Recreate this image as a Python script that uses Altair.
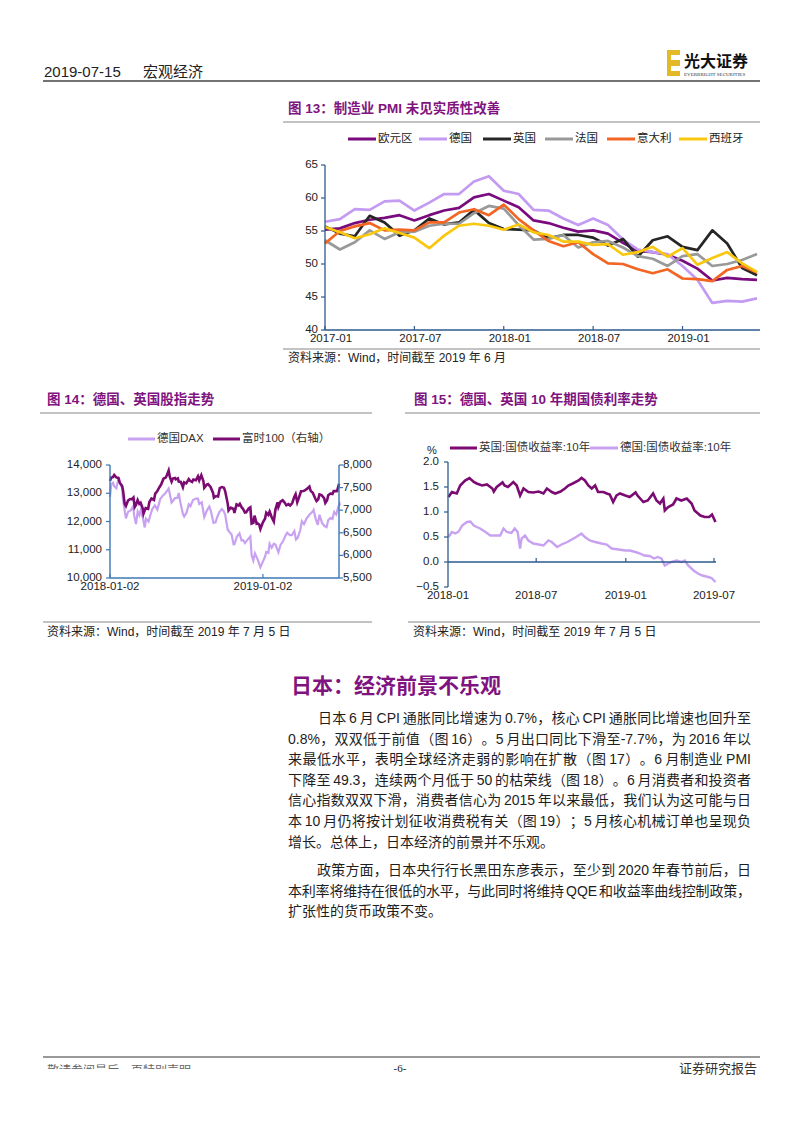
import altair as alt
import pandas as pd

W, H = 802, 1133
CJK = "Noto Sans CJK SC"
MIX = "Liberation Sans, Noto Sans CJK SC"
PURPLE_T = "#7F1480"
AXIS = "#2C5A8C"
AXIS14 = "#3C78B4"
TXT = "#1E1E1E"

# ---------------- Figure 13: manufacturing PMI ----------------
PMI_MONTHS = [f"{y}-{m:02d}" for y in (2017, 2018, 2019) for m in range(1, 13)][:30]
PMI_SERIES = ["欧元区", "德国", "英国", "法国", "意大利", "西班牙"]
PMI_EZ = [55.2, 55.4, 56.2, 56.7, 57.0, 57.4, 56.6, 57.4, 58.1, 58.5, 60.1, 60.6, 59.6, 58.6, 56.6,
          56.2, 55.5, 54.9, 55.1, 54.6, 53.2, 52.0, 51.8, 51.4, 50.5, 49.3, 47.5, 47.9, 47.7, 47.6]
PMI_DE = [56.4, 56.8, 58.3, 58.2, 59.5, 59.6, 58.1, 59.3, 60.6, 60.6, 62.5, 63.3, 61.1, 60.6, 58.2,
          58.1, 56.9, 55.9, 56.9, 55.9, 53.7, 52.2, 51.8, 51.5, 49.7, 47.6, 44.1, 44.4, 44.3, 44.8]
PMI_UK = [55.7, 54.6, 54.2, 57.3, 56.3, 54.3, 55.1, 56.9, 56.0, 56.3, 58.2, 56.2, 55.3, 55.2, 55.1,
          53.9, 54.4, 54.4, 54.0, 52.8, 53.8, 51.1, 53.6, 54.2, 52.6, 52.1, 55.1, 53.1, 49.4, 48.3]
PMI_FR = [53.6, 52.2, 53.3, 55.1, 53.8, 54.8, 54.9, 55.8, 56.1, 56.1, 57.7, 58.8, 58.4, 55.9, 53.7,
          53.8, 54.4, 52.5, 53.3, 53.5, 52.5, 51.2, 50.8, 49.7, 51.2, 51.5, 49.7, 50.0, 50.6, 51.5]
PMI_IT = [53.1, 55.0, 55.7, 56.2, 55.1, 55.2, 55.1, 56.3, 56.3, 57.8, 58.3, 57.4, 59.0, 56.8, 55.1,
          53.5, 52.7, 53.3, 51.5, 50.1, 50.0, 49.2, 48.6, 49.2, 47.8, 47.7, 47.4, 49.1, 49.7, 48.7]
PMI_ES = [55.6, 54.8, 53.9, 54.5, 55.4, 54.7, 54.0, 52.4, 54.3, 55.8, 56.1, 55.8, 55.2, 56.0, 54.8,
          54.4, 53.4, 53.4, 52.9, 53.0, 51.4, 51.8, 52.6, 51.1, 52.4, 49.9, 50.9, 51.8, 50.1, 48.8]
PMI_COLORS = ["#7A0B7E", "#C49BF2", "#262626", "#999999", "#F26522", "#F9C80E"]
PMI_YTICKS = [40, 45, 50, 55, 60, 65]
PMI_XLABELS = ["2017-01", "2017-07", "2018-01", "2018-07", "2019-01"]

# ---------------- Figure 14: DAX & FTSE 100 ----------------
DAX_DATES = ["2018-01-02", "2018-01-05", "2018-01-09", "2018-01-12", "2018-01-17", "2018-01-23", "2018-01-26",
             "2018-01-31", "2018-02-02", "2018-02-06", "2018-02-09", "2018-02-14", "2018-02-20", "2018-02-26",
             "2018-03-01", "2018-03-05", "2018-03-09", "2018-03-13", "2018-03-16", "2018-03-22", "2018-03-26",
             "2018-03-29", "2018-04-04", "2018-04-09", "2018-04-13", "2018-04-19", "2018-04-25", "2018-05-02",
             "2018-05-08", "2018-05-14", "2018-05-18", "2018-05-22", "2018-05-29", "2018-06-01", "2018-06-06",
             "2018-06-12", "2018-06-15", "2018-06-19", "2018-06-25", "2018-06-28", "2018-07-04", "2018-07-09",
             "2018-07-13", "2018-07-19", "2018-07-26", "2018-07-31", "2018-08-03", "2018-08-09", "2018-08-15",
             "2018-08-21", "2018-08-27", "2018-08-31", "2018-09-06", "2018-09-11", "2018-09-14", "2018-09-20",
             "2018-09-26", "2018-10-01", "2018-10-04", "2018-10-10", "2018-10-15", "2018-10-19", "2018-10-24",
             "2018-10-26", "2018-11-01", "2018-11-07", "2018-11-12", "2018-11-16", "2018-11-20", "2018-11-26",
             "2018-12-03", "2018-12-06", "2018-12-10", "2018-12-14", "2018-12-18", "2018-12-21", "2018-12-27",
             "2019-01-02", "2019-01-07", "2019-01-10", "2019-01-15", "2019-01-18", "2019-01-23", "2019-01-28",
             "2019-02-01", "2019-02-08", "2019-02-13", "2019-02-19", "2019-02-25", "2019-03-01", "2019-03-07",
             "2019-03-12", "2019-03-18", "2019-03-22", "2019-03-26", "2019-04-01", "2019-04-05", "2019-04-10",
             "2019-04-16", "2019-04-23", "2019-04-30", "2019-05-03", "2019-05-08", "2019-05-13", "2019-05-17",
             "2019-05-23", "2019-05-29", "2019-06-03", "2019-06-07", "2019-06-12", "2019-06-17", "2019-06-21",
             "2019-06-26", "2019-07-01", "2019-07-04", "2019-07-05"]
DAX_VALUES = [12870, 13320, 13370, 13250, 13180, 13560, 13340, 13190, 12790, 12390, 12110, 12340, 12390, 12530,
              12190, 11910, 12350, 12220, 12390, 12100, 11790, 12100, 12000, 12260, 12440, 12570, 12420, 12800,
              12910, 13000, 13080, 13170, 12670, 12720, 12830, 12840, 13010, 12680, 12270, 12180, 12320, 12610,
              12540, 12760, 12810, 12810, 12620, 12680, 12160, 12380, 12530, 12360, 11950, 11970, 12120, 12330,
              12440, 12350, 12240, 11710, 11610, 11550, 11190, 11200, 11470, 11580, 11330, 11340, 11240, 11350,
              11470, 10810, 10620, 10870, 10740, 10630, 10380, 10580, 10750, 10920, 10890, 11210, 11070, 11210,
              11180, 10910, 11170, 11300, 11500, 11600, 11520, 11520, 11660, 11360, 11420, 11680, 12010, 11910,
              12100, 12240, 12340, 12410, 12090, 11880, 12240, 11950, 11840, 11800, 12050, 12120, 12090, 12340,
              12250, 12520, 12630, 12570]
FTSE_DATES = ["2018-01-02", "2018-01-05", "2018-01-09", "2018-01-12", "2018-01-17", "2018-01-22", "2018-01-25",
              "2018-01-31", "2018-02-02", "2018-02-06", "2018-02-09", "2018-02-14", "2018-02-19", "2018-02-23",
              "2018-02-27", "2018-03-02", "2018-03-05", "2018-03-09", "2018-03-13", "2018-03-16", "2018-03-21",
              "2018-03-23", "2018-03-28", "2018-04-03", "2018-04-06", "2018-04-11", "2018-04-17", "2018-04-20",
              "2018-04-25", "2018-04-30", "2018-05-04", "2018-05-10", "2018-05-15", "2018-05-18", "2018-05-22",
              "2018-05-25", "2018-05-29", "2018-06-01", "2018-06-06", "2018-06-08", "2018-06-13", "2018-06-15",
              "2018-06-20", "2018-06-25", "2018-06-28", "2018-07-03", "2018-07-09", "2018-07-12", "2018-07-17",
              "2018-07-20", "2018-07-26", "2018-07-31", "2018-08-03", "2018-08-08", "2018-08-13", "2018-08-15",
              "2018-08-21", "2018-08-24", "2018-08-30", "2018-09-05", "2018-09-07", "2018-09-12", "2018-09-17",
              "2018-09-21", "2018-09-26", "2018-10-01", "2018-10-04", "2018-10-10", "2018-10-12", "2018-10-17",
              "2018-10-19", "2018-10-24", "2018-10-26", "2018-10-31", "2018-11-05", "2018-11-08", "2018-11-13",
              "2018-11-15", "2018-11-20", "2018-11-23", "2018-11-29", "2018-12-03", "2018-12-06", "2018-12-10",
              "2018-12-13", "2018-12-18", "2018-12-20", "2018-12-24", "2018-12-27", "2019-01-02", "2019-01-07",
              "2019-01-10", "2019-01-15", "2019-01-18", "2019-01-23", "2019-01-28", "2019-02-01", "2019-02-06",
              "2019-02-08", "2019-02-13", "2019-02-18", "2019-02-22", "2019-02-27", "2019-03-04", "2019-03-08",
              "2019-03-13", "2019-03-18", "2019-03-21", "2019-03-25", "2019-03-29", "2019-04-03", "2019-04-09",
              "2019-04-12", "2019-04-17", "2019-04-23", "2019-04-26", "2019-05-01", "2019-05-07", "2019-05-10",
              "2019-05-14", "2019-05-17", "2019-05-22", "2019-05-28", "2019-05-31", "2019-06-04", "2019-06-07",
              "2019-06-12", "2019-06-17", "2019-06-20", "2019-06-25", "2019-06-28", "2019-07-02", "2019-07-05"]
FTSE_VALUES = [7648, 7724, 7731, 7779, 7725, 7715, 7615, 7534, 7443, 7141, 7092, 7214, 7247, 7244, 7282, 7070,
               7115, 7224, 7139, 7164, 7039, 6922, 7045, 7030, 7183, 7257, 7226, 7368, 7425, 7509, 7567, 7700,
               7722, 7779, 7877, 7730, 7632, 7701, 7712, 7681, 7703, 7633, 7627, 7509, 7615, 7593, 7688, 7651,
               7626, 7679, 7663, 7748, 7659, 7776, 7642, 7497, 7565, 7577, 7516, 7383, 7277, 7313, 7303, 7490,
               7511, 7495, 7418, 7146, 6996, 7055, 7049, 7027, 6940, 7128, 7104, 7141, 7053, 7038, 6947, 6953,
               7038, 7062, 6704, 6721, 6880, 6702, 6711, 6685, 6585, 6734, 6811, 6943, 6895, 6968, 6843, 6748,
               7020, 7174, 7071, 7190, 7219, 7178, 7107, 7134, 7104, 7159, 7299, 7355, 7177, 7279, 7418, 7425,
               7437, 7471, 7523, 7428, 7385, 7260, 7203, 7241, 7349, 7334, 7268, 7162, 7214, 7331, 7368, 7357,
               7424, 7423, 7425, 7559, 7553]
F14_LEFT_TICKS = [10000, 11000, 12000, 13000, 14000]
F14_RIGHT_TICKS = [5500, 6000, 6500, 7000, 7500, 8000]
F14_XLABELS = ["2018-01-02", "2019-01-02"]

# ---------------- Figure 15: 10Y government bond yields ----------------
UK_DATES = ["2018-01-02", "2018-01-09", "2018-01-19", "2018-01-26", "2018-02-05", "2018-02-14", "2018-02-23",
            "2018-03-01", "2018-03-12", "2018-03-22", "2018-04-02", "2018-04-05", "2018-04-11", "2018-04-23",
            "2018-04-27", "2018-05-04", "2018-05-15", "2018-05-22", "2018-05-29", "2018-06-05", "2018-06-15",
            "2018-06-25", "2018-07-06", "2018-07-16", "2018-07-23", "2018-08-02", "2018-08-09", "2018-08-20",
            "2018-08-29", "2018-09-05", "2018-09-14", "2018-09-26", "2018-10-02", "2018-10-09", "2018-10-16",
            "2018-10-23", "2018-10-30", "2018-11-05", "2018-11-16", "2018-11-23", "2018-11-29", "2018-12-06",
            "2018-12-13", "2018-12-20", "2018-12-31", "2019-01-09", "2019-01-21", "2019-01-25", "2019-02-06",
            "2019-02-15", "2019-02-26", "2019-03-05", "2019-03-12", "2019-03-19", "2019-03-22", "2019-03-29",
            "2019-04-08", "2019-04-15", "2019-04-25", "2019-05-06", "2019-05-16", "2019-05-22", "2019-06-03",
            "2019-06-12", "2019-06-21", "2019-06-27", "2019-07-04"]
UK_YIELD = [1.30, 1.40, 1.37, 1.53, 1.63, 1.68, 1.60, 1.57, 1.53, 1.55, 1.47, 1.41, 1.50, 1.59, 1.53, 1.50,
            1.60, 1.53, 1.33, 1.47, 1.40, 1.39, 1.41, 1.37, 1.47, 1.40, 1.37, 1.41, 1.47, 1.53, 1.57, 1.63,
            1.68, 1.63, 1.53, 1.47, 1.53, 1.40, 1.40, 1.37, 1.35, 1.20, 1.33, 1.37, 1.33, 1.30, 1.39, 1.33,
            1.20, 1.23, 1.37, 1.23, 1.17, 1.27, 1.03, 1.10, 1.15, 1.27, 1.23, 1.27, 1.17, 1.03, 0.93, 0.90,
            0.90, 0.95, 0.80]
DE_DATES = ["2018-01-02", "2018-01-09", "2018-01-16", "2018-01-23", "2018-01-30", "2018-02-09", "2018-02-16",
            "2018-02-23", "2018-03-01", "2018-03-08", "2018-03-19", "2018-03-29", "2018-04-09", "2018-04-18",
            "2018-04-25", "2018-05-02", "2018-05-11", "2018-05-18", "2018-05-24", "2018-05-29", "2018-06-01",
            "2018-06-08", "2018-06-15", "2018-06-25", "2018-07-06", "2018-07-16", "2018-07-26", "2018-08-02",
            "2018-08-13", "2018-08-22", "2018-09-03", "2018-09-12", "2018-09-21", "2018-10-02", "2018-10-09",
            "2018-10-19", "2018-10-30", "2018-11-12", "2018-11-23", "2018-12-03", "2018-12-17", "2018-12-31",
            "2019-01-09", "2019-01-21", "2019-01-30", "2019-02-08", "2019-02-19", "2019-02-28", "2019-03-07",
            "2019-03-15", "2019-03-22", "2019-03-29", "2019-04-05", "2019-04-15", "2019-04-25", "2019-05-02",
            "2019-05-09", "2019-05-20", "2019-05-29", "2019-06-07", "2019-06-19", "2019-06-26", "2019-07-04"]
DE_YIELD = [0.50, 0.60, 0.57, 0.61, 0.73, 0.80, 0.81, 0.73, 0.70, 0.67, 0.60, 0.53, 0.53, 0.53, 0.67, 0.60,
            0.58, 0.67, 0.60, 0.27, 0.47, 0.53, 0.43, 0.37, 0.35, 0.33, 0.43, 0.40, 0.30, 0.35, 0.40, 0.45,
            0.50, 0.57, 0.50, 0.43, 0.40, 0.37, 0.35, 0.27, 0.25, 0.23, 0.23, 0.20, 0.17, 0.13, 0.12, 0.07,
            0.10, 0.07, -0.07, -0.03, 0.00, 0.03, 0.00, 0.03, -0.07, -0.17, -0.23, -0.27, -0.30, -0.32, -0.40]
F15_YTICKS = [-0.5, 0.0, 0.5, 1.0, 1.5, 2.0]
F15_XDATES = ["2018-01-01", "2018-07-01", "2019-01-01", "2019-07-01"]
F15_XLABELS = ["2018-01", "2018-07", "2019-01", "2019-07"]

# ---------------- Page text ----------------
HEADER_DATE = "2019-07-15"
HEADER_SECTION = "宏观经济"
TITLE13 = "图 13：制造业 PMI 未见实质性改善"
TITLE14 = "图 14：德国、英国股指走势"
TITLE15 = "图 15：德国、英国 10 年期国债利率走势"
SOURCE13 = "资料来源：Wind，时间截至 2019 年 6 月"
SOURCE1415 = "资料来源：Wind，时间截至 2019 年 7 月 5 日"
LEG14 = ["德国DAX", "富时100（右轴）"]
LEG15 = ["英国:国债收益率:10年", "德国:国债收益率:10年"]
HEADING = "日本：经济前景不乐观"
PARA1 = ["日本 6 月 CPI 通胀同比增速为 0.7%，核心 CPI 通胀同比增速也回升至",
         "0.8%，双双低于前值（图 16）。5 月出口同比下滑至-7.7%，为 2016 年以",
         "来最低水平，表明全球经济走弱的影响在扩散（图 17）。6 月制造业 PMI",
         "下降至 49.3，连续两个月低于 50 的枯荣线（图 18）。6 月消费者和投资者",
         "信心指数双双下滑，消费者信心为 2015 年以来最低，我们认为这可能与日",
         "本 10 月仍将按计划征收消费税有关（图 19）；5 月核心机械订单也呈现负",
         "增长。总体上，日本经济的前景并不乐观。"]
PARA2 = ["政策方面，日本央行行长黑田东彦表示，至少到 2020 年春节前后，日",
         "本利率将维持在很低的水平，与此同时将维持 QQE 和收益率曲线控制政策，",
         "扩张性的货币政策不变。"]
FOOTER_LEFT = "敬请参阅最后一页特别声明"
FOOTER_MID = "-6-"
FOOTER_RIGHT = "证券研究报告"

ONE = pd.DataFrame({"k": [0]})
layers = []


def text(s, x, y, size=12, color=TXT, weight="normal", align="left", font=MIX):
    layers.append(alt.Chart(ONE).mark_text(align=align, baseline="middle", fontSize=size, font=font,
                                           color=color, fontWeight=weight)
                  .encode(x=alt.value(x), y=alt.value(y), text=alt.value(s)))


def hline(x1, x2, y, color="#888888", w=1.0):
    layers.append(alt.Chart(ONE).mark_rule(color=color, strokeWidth=w)
                  .encode(x=alt.value(x1), x2=alt.value(x2), y=alt.value(y)))


def vline(x, y1, y2, color, w=1.0):
    layers.append(alt.Chart(ONE).mark_rule(color=color, strokeWidth=w)
                  .encode(x=alt.value(x), y=alt.value(y1), y2=alt.value(y2)))


def rect(x1, x2, y1, y2, color):
    layers.append(alt.Chart(ONE).mark_rect(color=color)
                  .encode(x=alt.value(x1), x2=alt.value(x2), y=alt.value(y1), y2=alt.value(y2)))


def lin(domain, rng):
    return alt.Scale(domain=domain, range=rng, nice=False, zero=False)


# ----- simple justification of body text (layout helper) -----
ARIAL = {".": 0.278, "%": 0.889, "-": 0.333, ",": 0.278, "C": 0.722, "P": 0.667, "I": 0.278,
         "M": 0.833, "Q": 0.778, "E": 0.667}


def tokens_of(line):
    toks, buf = [], ""
    for ch in line:
        if ord(ch) < 128:
            if ch == " ":
                if buf:
                    toks.append(buf)
                    buf = ""
                toks.append(" ")
            else:
                buf += ch
        else:
            if buf:
                toks.append(buf)
                buf = ""
            toks.append(ch)
    if buf:
        toks.append(buf)
    return toks


def tok_w(t, fs):
    if t == " ":
        return 0.278 * fs * 0.6
    if ord(t[0]) >= 128:
        return fs
    return sum(ARIAL.get(c, 0.556) for c in t) * fs


def justify(lines, x_first, x_left, x_right, y0, dy, fs):
    rows = []
    for k, line in enumerate(lines):
        x0 = x_first if k == 0 else x_left
        toks = tokens_of(line)
        widths = [tok_w(t, fs) for t in toks]
        last = k == len(lines) - 1
        gaps = len(toks) - 1
        extra = 0 if last or gaps <= 0 else (x_right - x0 - sum(widths)) / gaps
        x = x0
        for t, w in zip(toks, widths):
            if t != " ":
                rows.append({"t": t, "x": x, "y": y0 + k * dy})
            x += w + extra
    return pd.DataFrame(rows)


# ---------- header ----------
text(HEADER_DATE, 44, 72, size=15, font="Liberation Sans", color="#222")
text(HEADER_SECTION, 143, 72, size=15, font=CJK, color="#222")
hline(43, 760, 81, color="#444444", w=1.6)
rect(667, 680, 50, 76, "#E3B928")
rect(671, 680, 55, 60, "#FFFFFF")
rect(671, 680, 66, 71, "#FFFFFF")
text("光大证券", 684, 62, size=16, font=CJK, weight="bold", color="#111")
text("EVERBRIGHT SECURITIES", 684, 74, size=5, font="Liberation Serif", color="#333")

# ---------- Figure 13 ----------
text(TITLE13, 288, 109, size=13.5, color=PURPLE_T, weight="bold")
hline(283, 760, 122, color="#888888", w=1.2)
leg13_x = [348, 419, 483, 545, 607, 679]
for name, col, lx in zip(PMI_SERIES, PMI_COLORS, leg13_x):
    hline(lx, lx + 28, 139, color=col, w=3)
    text(name, lx + 30, 139, size=11.5, font=CJK, color="#222")

sx13 = lin([0, 29], [325, 757])
sy13 = lin([40, 65], [330, 165])
pmi_vals = [PMI_EZ, PMI_DE, PMI_UK, PMI_FR, PMI_IT, PMI_ES]
for vals, col in zip(pmi_vals, PMI_COLORS):
    df = pd.DataFrame({"i": range(len(vals)), "v": vals})
    layers.append(alt.Chart(df).mark_line(color=col, strokeWidth=2.7, strokeJoin="round")
                  .encode(x=alt.X("i:Q", scale=sx13, axis=None), y=alt.Y("v:Q", scale=sy13, axis=None)))
vline(325, 165, 330, AXIS, 1.3)
hline(325, 760, 330, AXIS, 1.3)
yt13 = pd.DataFrame({"v": PMI_YTICKS})
layers.append(alt.Chart(yt13).mark_rule(color=AXIS, strokeWidth=1.2)
              .encode(y=alt.Y("v:Q", scale=sy13, axis=None), x=alt.value(321), x2=alt.value(325)))
layers.append(alt.Chart(yt13).mark_text(align="right", baseline="middle", fontSize=11.5,
                                        font="Liberation Sans", color="#222")
              .encode(y=alt.Y("v:Q", scale=sy13, axis=None), x=alt.value(318), text=alt.Text("v:Q", format="d")))
xt13 = pd.DataFrame({"lab": PMI_XLABELS, "i": [PMI_MONTHS.index(m) for m in PMI_XLABELS]})
layers.append(alt.Chart(xt13).mark_rule(color=AXIS, strokeWidth=1.2)
              .encode(x=alt.X("i:Q", scale=sx13, axis=None), y=alt.value(326), y2=alt.value(330)))
layers.append(alt.Chart(xt13).mark_text(align="center", baseline="middle", fontSize=11.5, dx=6,
                                        font="Liberation Sans", color="#222")
              .encode(x=alt.X("i:Q", scale=sx13, axis=None), y=alt.value(339), text="lab:N"))
hline(283, 760, 349, color="#888888", w=1.2)
text(SOURCE13, 288, 358, size=12, color="#222")

# ---------- Figure 14 ----------
text(TITLE14, 47, 400, size=13.5, color=PURPLE_T, weight="bold")
hline(40, 372, 413, color="#888888", w=1.2)
hline(128, 155, 439, color="#C8A2F0", w=3)
text(LEG14[0], 157, 439, size=11.5, color="#333")
hline(213, 240, 439, color="#7B0B72", w=3)
text(LEG14[1], 242, 439, size=11.5, color="#333")

d0_14 = pd.Timestamp("2018-01-02")
sx14 = lin([0, 549], [110, 340])
syl14 = lin([10000, 14000], [578, 465])
syr14 = lin([5500, 8000], [578, 465])
dax = pd.DataFrame({"d": (pd.to_datetime(DAX_DATES) - d0_14).days, "v": DAX_VALUES})
ftse = pd.DataFrame({"d": (pd.to_datetime(FTSE_DATES) - d0_14).days, "v": FTSE_VALUES})
layers.append(alt.Chart(dax).mark_line(color="#C8A2F0", strokeWidth=2.2)
              .encode(x=alt.X("d:Q", scale=sx14, axis=None), y=alt.Y("v:Q", scale=syl14, axis=None)))
layers.append(alt.Chart(ftse).mark_line(color="#7B0B72", strokeWidth=2.6)
              .encode(x=alt.X("d:Q", scale=sx14, axis=None), y=alt.Y("v:Q", scale=syr14, axis=None)))
vline(110, 465, 578, AXIS14, 1.4)
vline(339, 465, 578, AXIS14, 1.4)
hline(110, 339, 578, AXIS14, 1.4)
lt = pd.DataFrame({"v": F14_LEFT_TICKS})
rt = pd.DataFrame({"v": F14_RIGHT_TICKS})
layers.append(alt.Chart(lt).mark_rule(color=AXIS14, strokeWidth=1.2)
              .encode(y=alt.Y("v:Q", scale=syl14, axis=None), x=alt.value(106), x2=alt.value(110)))
layers.append(alt.Chart(lt).mark_text(align="right", baseline="middle", fontSize=11.5,
                                      font="Liberation Sans", color="#222")
              .encode(y=alt.Y("v:Q", scale=syl14, axis=None), x=alt.value(102), text=alt.Text("v:Q", format=",")))
layers.append(alt.Chart(rt).mark_rule(color=AXIS14, strokeWidth=1.2)
              .encode(y=alt.Y("v:Q", scale=syr14, axis=None), x=alt.value(339), x2=alt.value(343)))
layers.append(alt.Chart(rt).mark_text(align="left", baseline="middle", fontSize=11.5,
                                      font="Liberation Sans", color="#222")
              .encode(y=alt.Y("v:Q", scale=syr14, axis=None), x=alt.value(343), text=alt.Text("v:Q", format=",")))
xt14 = pd.DataFrame({"lab": F14_XLABELS, "d": (pd.to_datetime(F14_XLABELS) - d0_14).days})
layers.append(alt.Chart(xt14).mark_rule(color=AXIS14, strokeWidth=1.2)
              .encode(x=alt.X("d:Q", scale=sx14, axis=None), y=alt.value(574), y2=alt.value(578)))
layers.append(alt.Chart(xt14).mark_text(align="center", baseline="middle", fontSize=11.5,
                                        font="Liberation Sans", color="#222")
              .encode(x=alt.X("d:Q", scale=sx14, axis=None), y=alt.value(587), text="lab:N"))
hline(43, 372, 622, color="#888888", w=1.2)
text(SOURCE1415, 47, 632, size=12, color="#222")

# ---------- Figure 15 ----------
text(TITLE15, 414, 400, size=13.5, color=PURPLE_T, weight="bold")
hline(405, 760, 413, color="#888888", w=1.2)
hline(450, 477, 448, color="#7B0B72", w=3)
text(LEG15[0], 479, 448, size=11.5, color="#333")
hline(590, 618, 448, color="#C8A2F0", w=3)
text(LEG15[1], 620, 448, size=11.5, color="#333")
text("%", 432, 451, size=11, font="Liberation Sans", color="#222", align="center")

d0_15 = pd.Timestamp("2018-01-01")
sx15 = lin([0, 546], [448, 714])
sy15 = lin([-0.5, 2.0], [587, 462])
uk = pd.DataFrame({"d": (pd.to_datetime(UK_DATES) - d0_15).days, "v": UK_YIELD})
de = pd.DataFrame({"d": (pd.to_datetime(DE_DATES) - d0_15).days, "v": DE_YIELD})
layers.append(alt.Chart(uk).mark_line(color="#7B0B72", strokeWidth=2.6)
              .encode(x=alt.X("d:Q", scale=sx15, axis=None), y=alt.Y("v:Q", scale=sy15, axis=None)))
layers.append(alt.Chart(de).mark_line(color="#C8A2F0", strokeWidth=2.4)
              .encode(x=alt.X("d:Q", scale=sx15, axis=None), y=alt.Y("v:Q", scale=sy15, axis=None)))
vline(448, 462, 587, AXIS, 1.3)
zero15 = pd.DataFrame({"v": [0.0]})
layers.append(alt.Chart(zero15).mark_rule(color=AXIS, strokeWidth=1.3)
              .encode(y=alt.Y("v:Q", scale=sy15, axis=None), x=alt.value(448), x2=alt.value(716)))
yt15 = pd.DataFrame({"v": F15_YTICKS})
layers.append(alt.Chart(yt15).mark_rule(color=AXIS, strokeWidth=1.2)
              .encode(y=alt.Y("v:Q", scale=sy15, axis=None), x=alt.value(444), x2=alt.value(448)))
layers.append(alt.Chart(yt15).mark_text(align="right", baseline="middle", fontSize=11.5,
                                        font="Liberation Sans", color="#222")
              .encode(y=alt.Y("v:Q", scale=sy15, axis=None), x=alt.value(439), text=alt.Text("v:Q", format=".1f")))
xt15 = pd.DataFrame({"lab": F15_XLABELS, "d": (pd.to_datetime(F15_XDATES) - d0_15).days})
layers.append(alt.Chart(xt15.iloc[1:]).mark_rule(color=AXIS, strokeWidth=1.2)
              .encode(x=alt.X("d:Q", scale=sx15, axis=None), y=alt.value(558), y2=alt.value(562)))
layers.append(alt.Chart(xt15).mark_text(align="center", baseline="middle", fontSize=11.5,
                                        font="Liberation Sans", color="#222")
              .encode(x=alt.X("d:Q", scale=sx15, axis=None), y=alt.value(596), text="lab:N"))
hline(408, 760, 622, color="#888888", w=1.2)
text(SOURCE1415, 413, 632, size=12, color="#222")

# ---------- Body text ----------
text(HEADING, 291, 687, size=21, font=CJK, weight="bold", color=PURPLE_T)
for df in (justify(PARA1, 318, 288, 751, 719, 20.6, 14), justify(PARA2, 317, 288, 751, 871, 20.6, 14)):
    layers.append(alt.Chart(df).mark_text(align="left", baseline="middle", fontSize=14, font=MIX, color=TXT)
                  .encode(x=alt.X("x:Q", scale=None, axis=None), y=alt.Y("y:Q", scale=None, axis=None),
                          text="t:N"))

# ---------- Footer ----------
hline(43, 760, 1057, color="#777777", w=1.5)
text(FOOTER_LEFT, 47, 1071, size=12, font=CJK, color="#666")
rect(40, 220, 1069, 1082, "#FFFFFF")
text(FOOTER_MID, 400, 1069, size=11, font="Liberation Serif", color="#222", align="center")
text(FOOTER_RIGHT, 757, 1069, size=13, font=CJK, color="#333", align="right")

chart = (alt.layer(*layers)
         .resolve_scale(x="independent", y="independent")
         .properties(width=W, height=H, padding=0, autosize=alt.AutoSizeParams(type="none"),
                     background="white")
         .configure_view(stroke=None))

chart.save("out.html", embed_options={"renderer": "svg", "actions": False})
